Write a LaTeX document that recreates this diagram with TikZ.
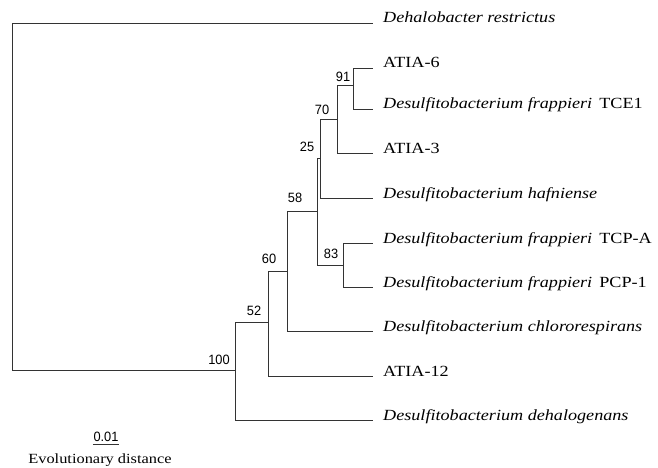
\documentclass[tikz,border=0pt]{standalone}
\usepackage{fontspec}
\setmainfont[FakeStretch=1.17]{Liberation Serif}
\newfontfamily\bootfont[FakeStretch=0.95]{Liberation Sans}
\usetikzlibrary{positioning}

\begin{document}
\begin{tikzpicture}[x=1pt,y=-1pt,
  branch/.style={line width=0.8pt,draw=black!80},
  leaf/.style={anchor=base west,inner xsep=10pt,inner ysep=0pt,
               font=\fontsize{15.5}{15.5}\selectfont},
  boot/.style={font=\bootfont\fontsize{13.5}{13.5}\selectfont,inner sep=0pt}
]
  \useasboundingbox (0,0) rectangle (658,468);

  % inner nodes of the tree
  \coordinate (n0) at (12,196);
  \coordinate (n100) at (235,370);
  \coordinate (n52) at (268,322);
  \coordinate (n60) at (287,271);
  \coordinate (n58) at (317,211);
  \coordinate (n25) at (320,158);
  \coordinate (n70) at (337,119);
  \coordinate (n91) at (353,85);
  \coordinate (n83) at (343,265);

  % leaves
  \node[leaf] (drest) at (373,23) {\textit{Dehalobacter restrictus}};
  \node[leaf] (atia6) at (373,68) {ATIA-6};
  \node[leaf] (tce1) at (373,109) {\textit{Desulfitobacterium frappieri}\, TCE1};
  \node[leaf] (atia3) at (373,153) {ATIA-3};
  \node[leaf] (dhaf) at (373,198) {\textit{Desulfitobacterium hafniense}};
  \node[leaf] (tcpa) at (373,243) {\textit{Desulfitobacterium frappieri}\, TCP-A};
  \node[leaf] (pcp1) at (373,287) {\textit{Desulfitobacterium frappieri}\, PCP-1};
  \node[leaf] (dchl) at (373,331) {\textit{Desulfitobacterium chlororespirans}};
  \node[leaf] (atia12) at (373,376) {ATIA-12};
  \node[leaf] (ddeh) at (373,420) {\textit{Desulfitobacterium dehalogenans}};

  % bootstrap values
  \node[boot] (b100) at (219,360) {100};
  \node[boot] (b52) at (254,311) {52};
  \node[boot] (b60) at (269,259) {60};
  \node[boot] (b58) at (295,198) {58};
  \node[boot] (b25) at (307,147) {25};
  \node[boot] (b70) at (322,110) {70};
  \node[boot] (b91) at (343,77) {91};
  \node[boot] (b83) at (331,254) {83};

  % branches
  \draw[branch] (n0) |- (drest.base west);
  \draw[branch] (n0) |- (n100);
  \draw[branch] (n100) |- (n52);
  \draw[branch] (n100) |- (ddeh.base west);
  \draw[branch] (n52) |- (n60);
  \draw[branch] (n52) |- (atia12.base west);
  \draw[branch] (n60) |- (n58);
  \draw[branch] (n60) |- (dchl.base west);
  \draw[branch] (n58) |- (n25);
  \draw[branch] (n58) |- (n83);
  \draw[branch] (n25) |- (n70);
  \draw[branch] (n25) |- (dhaf.base west);
  \draw[branch] (n70) |- (n91);
  \draw[branch] (n70) |- (atia3.base west);
  \draw[branch] (n91) |- (atia6.base west);
  \draw[branch] (n91) |- (tce1.base west);
  \draw[branch] (n83) |- (tcpa.base west);
  \draw[branch] (n83) |- (pcp1.base west);

  % scale bar
  \node[boot,inner xsep=0.5pt,inner ysep=2pt] (scale) at (106,437) {0.01};
  \draw[branch] (scale.south west) -- (scale.south east);
  \node[font=\fontsize{14}{14}\selectfont,inner sep=0pt] (evol) at (100,460) {Evolutionary distance};
\end{tikzpicture}
\end{document}
